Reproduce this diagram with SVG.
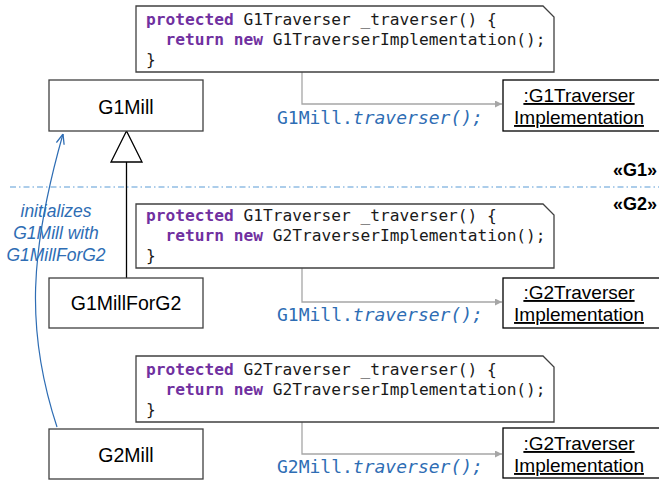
<svg xmlns="http://www.w3.org/2000/svg" width="659" height="481" viewBox="0 0 659 481">
  <defs>
    <style>
      .cls { fill: #fff; stroke: #404040; stroke-width: 1.3; }
      .cls-name { font-family: "Liberation Sans", Arial, sans-serif; font-size: 19.5px; fill: #000; text-anchor: middle; }
      .note { fill: #fff; stroke: #404040; stroke-width: 1.3; }
      .code { font-family: "DejaVu Sans Mono", "Liberation Mono", monospace; font-size: 16.2px; fill: #1a1a1a; white-space: pre; }
      .kw { fill: #7030a0; font-weight: bold; }
      .call { font-family: "DejaVu Sans Mono", "Liberation Mono", monospace; font-size: 18px; fill: #2e6db4; }
      .obj { fill: #fff; stroke: #000; stroke-width: 1.3; }
      .obj-name { font-family: "Liberation Sans", Arial, sans-serif; font-size: 19px; fill: #000; text-anchor: middle; text-decoration: underline; }
      .link { fill: none; stroke: #a6a6a6; stroke-width: 1.3; }
      .layer { font-family: "Liberation Sans", Arial, sans-serif; font-size: 18px; font-weight: bold; fill: #000; text-anchor: end; }
      .note-text { font-family: "Liberation Sans", Arial, sans-serif; font-size: 17.5px; font-style: italic; fill: #2e6db4; text-anchor: middle; }
    </style>
    <marker id="grayArrow" viewBox="0 0 10 10" refX="10" refY="5" markerWidth="9" markerHeight="7" markerUnits="userSpaceOnUse" orient="auto">
      <path d="M0,0 L10,5 L0,10 z" fill="#a6a6a6"/>
    </marker>
    <marker id="blueArrow" viewBox="0 0 10 10" refX="10" refY="5" markerWidth="10" markerHeight="10" markerUnits="userSpaceOnUse" orient="auto">
      <path d="M0,1 L10,5 L0,9" fill="none" stroke="#2e6db4" stroke-width="1.3"/>
    </marker>
  </defs>

  <rect width="659" height="481" fill="#fff"/>

  <!-- layer separator -->
  <line x1="10" y1="187" x2="659" y2="187" stroke="#5b9bd5" stroke-width="1.2" stroke-dasharray="6 3 1.5 3"/>
  <text class="layer" x="657" y="176">«G1»</text>
  <text class="layer" x="657" y="210">«G2»</text>

  <!-- connectors -->
  <g id="connectors">
    <!-- generalization G1MillForG2 -> G1Mill -->
    <line x1="126.5" y1="162" x2="126.5" y2="278" stroke="#000" stroke-width="1.3"/>
    <polygon points="126.5,131 111,162 142,162" fill="#fff" stroke="#000" stroke-width="1.3"/>
    <!-- initialization dependency G2Mill -> G1Mill -->
    <path d="M57,427 C25,330 30,250 63,134" fill="none" stroke="#2e6db4" stroke-width="1.2" marker-end="url(#blueArrow)"/>
    <!-- notes to traverser objects -->
    <path class="link" d="M302,72 V104 H502" marker-end="url(#grayArrow)"/>
    <path class="link" d="M302,268 V302 H502" marker-end="url(#grayArrow)"/>
    <path class="link" d="M302,422 V454 H502" marker-end="url(#grayArrow)"/>
  </g>

  <text class="note-text" x="56" y="217">initializes</text>
  <text class="note-text" x="56" y="239">G1Mill with</text>
  <text class="note-text" x="56" y="261">G1MillForG2</text>

  <!-- classes -->
  <g id="G1Mill">
    <rect class="cls" x="49" y="80" width="154" height="51"/>
    <text class="cls-name" x="126" y="114">G1Mill</text>
  </g>
  <g id="G1MillForG2">
    <rect class="cls" x="49" y="278" width="154" height="50"/>
    <text class="cls-name" x="126" y="310">G1MillForG2</text>
  </g>
  <g id="G2Mill">
    <rect class="cls" x="49" y="429" width="154" height="50"/>
    <text class="cls-name" x="126" y="462">G2Mill</text>
  </g>

  <!-- code notes -->
  <g id="noteG1Mill">
    <path class="note" d="M136,6 H543 L554,17 V72 H136 Z"/>
    <text class="code" x="146" y="25"><tspan class="kw">protected</tspan> G1Traverser _traverser() {</text>
    <text class="code" x="146" y="45" xml:space="preserve">  <tspan class="kw">return</tspan> <tspan class="kw">new</tspan> G1TraverserImplementation();</text>
    <text class="code" x="146" y="65">}</text>
  </g>
  <g id="noteG1MillForG2">
    <path class="note" d="M136,204 H543 L554,215 V268 H136 Z"/>
    <text class="code" x="146" y="221"><tspan class="kw">protected</tspan> G1Traverser _traverser() {</text>
    <text class="code" x="146" y="241" xml:space="preserve">  <tspan class="kw">return</tspan> <tspan class="kw">new</tspan> G2TraverserImplementation();</text>
    <text class="code" x="146" y="261">}</text>
  </g>
  <g id="noteG2Mill">
    <path class="note" d="M136,356 H543 L554,367 V422 H136 Z"/>
    <text class="code" x="146" y="375"><tspan class="kw">protected</tspan> G2Traverser _traverser() {</text>
    <text class="code" x="146" y="395" xml:space="preserve">  <tspan class="kw">return</tspan> <tspan class="kw">new</tspan> G2TraverserImplementation();</text>
    <text class="code" x="146" y="415">}</text>
  </g>

  <!-- calls -->
  <text class="call" x="277" y="124">G1Mill.<tspan font-style="italic">traverser();</tspan></text>
  <text class="call" x="277" y="321">G1Mill.<tspan font-style="italic">traverser();</tspan></text>
  <text class="call" x="277" y="473">G2Mill.<tspan font-style="italic">traverser();</tspan></text>

  <!-- traverser objects -->
  <g id="g1TraverserImpl">
    <rect class="obj" x="503" y="80" width="160" height="51"/>
    <text class="obj-name" x="579" y="102">:G1Traverser</text>
    <text class="obj-name" x="579" y="124">Implementation</text>
  </g>
  <g id="g2TraverserImplA">
    <rect class="obj" x="503" y="278" width="160" height="50"/>
    <text class="obj-name" x="579" y="299">:G2Traverser</text>
    <text class="obj-name" x="579" y="321">Implementation</text>
  </g>
  <g id="g2TraverserImplB">
    <rect class="obj" x="503" y="428" width="160" height="50"/>
    <text class="obj-name" x="579" y="450">:G2Traverser</text>
    <text class="obj-name" x="579" y="472">Implementation</text>
  </g>
</svg>
